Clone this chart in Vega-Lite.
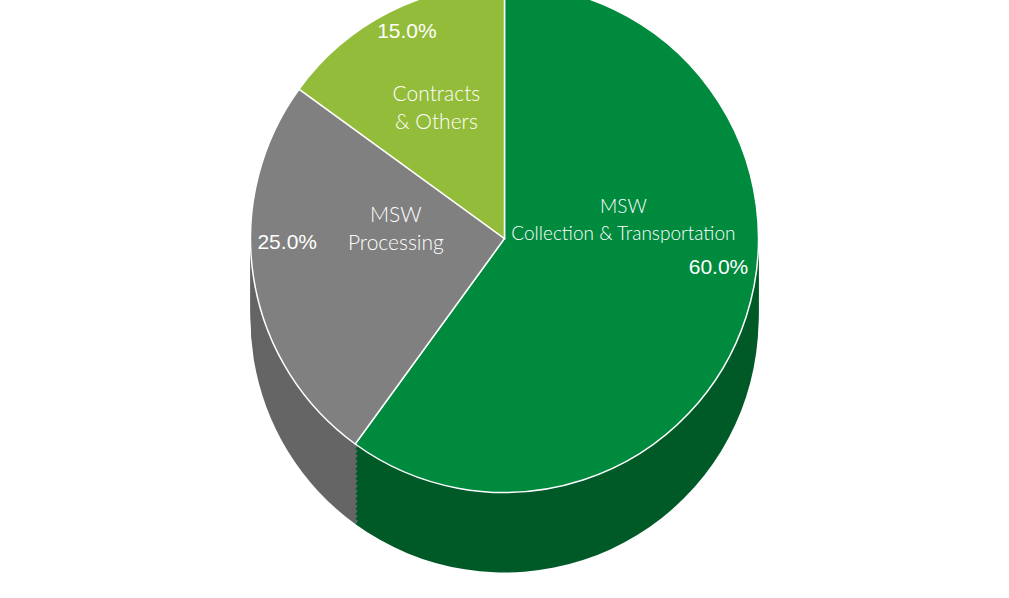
{
  "$schema": "https://vega.github.io/schema/vega-lite/v6.json",
  "width": 1009,
  "height": 598,
  "autosize": {"type": "fit", "contains": "padding"},
  "padding": {"left": 0, "right": 0, "top": 2, "bottom": 88},
  "background": "white",
  "config": {"view": {"stroke": null}},
  "data": {
    "values": [
      {"category": "MSW\nCollection & Transportation", "pct": 60.0, "label": "60.0%", "order": 1},
      {"category": "MSW\nProcessing", "pct": 25.0, "label": "25.0%", "order": 2},
      {"category": "Contracts\n& Others", "pct": 15.0, "label": "15.0%", "order": 3}
    ]
  },
  "encoding": {
    "theta": {"field": "pct", "type": "quantitative", "stack": true},
    "order": {"field": "order", "type": "quantitative"}
  },
  "layer": [
    {"mark": {"type": "arc", "outerRadius": 254, "yOffset": 80}, "encoding": {"color": {"condition": [{"test": "datum.order == 1", "value": "#005A27"}, {"test": "datum.order == 2", "value": "#656565"}], "value": "#6E8F2A"}}},
    {"mark": {"type": "arc", "outerRadius": 254, "yOffset": 75}, "encoding": {"color": {"condition": [{"test": "datum.order == 1", "value": "#005A27"}, {"test": "datum.order == 2", "value": "#656565"}], "value": "#6E8F2A"}}},
    {"mark": {"type": "arc", "outerRadius": 254, "yOffset": 70}, "encoding": {"color": {"condition": [{"test": "datum.order == 1", "value": "#005A27"}, {"test": "datum.order == 2", "value": "#656565"}], "value": "#6E8F2A"}}},
    {"mark": {"type": "arc", "outerRadius": 254, "yOffset": 65}, "encoding": {"color": {"condition": [{"test": "datum.order == 1", "value": "#005A27"}, {"test": "datum.order == 2", "value": "#656565"}], "value": "#6E8F2A"}}},
    {"mark": {"type": "arc", "outerRadius": 254, "yOffset": 60}, "encoding": {"color": {"condition": [{"test": "datum.order == 1", "value": "#005A27"}, {"test": "datum.order == 2", "value": "#656565"}], "value": "#6E8F2A"}}},
    {"mark": {"type": "arc", "outerRadius": 254, "yOffset": 55}, "encoding": {"color": {"condition": [{"test": "datum.order == 1", "value": "#005A27"}, {"test": "datum.order == 2", "value": "#656565"}], "value": "#6E8F2A"}}},
    {"mark": {"type": "arc", "outerRadius": 254, "yOffset": 50}, "encoding": {"color": {"condition": [{"test": "datum.order == 1", "value": "#005A27"}, {"test": "datum.order == 2", "value": "#656565"}], "value": "#6E8F2A"}}},
    {"mark": {"type": "arc", "outerRadius": 254, "yOffset": 45}, "encoding": {"color": {"condition": [{"test": "datum.order == 1", "value": "#005A27"}, {"test": "datum.order == 2", "value": "#656565"}], "value": "#6E8F2A"}}},
    {"mark": {"type": "arc", "outerRadius": 254, "yOffset": 40}, "encoding": {"color": {"condition": [{"test": "datum.order == 1", "value": "#005A27"}, {"test": "datum.order == 2", "value": "#656565"}], "value": "#6E8F2A"}}},
    {"mark": {"type": "arc", "outerRadius": 254, "yOffset": 35}, "encoding": {"color": {"condition": [{"test": "datum.order == 1", "value": "#005A27"}, {"test": "datum.order == 2", "value": "#656565"}], "value": "#6E8F2A"}}},
    {"mark": {"type": "arc", "outerRadius": 254, "yOffset": 30}, "encoding": {"color": {"condition": [{"test": "datum.order == 1", "value": "#005A27"}, {"test": "datum.order == 2", "value": "#656565"}], "value": "#6E8F2A"}}},
    {"mark": {"type": "arc", "outerRadius": 254, "yOffset": 25}, "encoding": {"color": {"condition": [{"test": "datum.order == 1", "value": "#005A27"}, {"test": "datum.order == 2", "value": "#656565"}], "value": "#6E8F2A"}}},
    {"mark": {"type": "arc", "outerRadius": 254, "yOffset": 20}, "encoding": {"color": {"condition": [{"test": "datum.order == 1", "value": "#005A27"}, {"test": "datum.order == 2", "value": "#656565"}], "value": "#6E8F2A"}}},
    {"mark": {"type": "arc", "outerRadius": 254, "yOffset": 15}, "encoding": {"color": {"condition": [{"test": "datum.order == 1", "value": "#005A27"}, {"test": "datum.order == 2", "value": "#656565"}], "value": "#6E8F2A"}}},
    {"mark": {"type": "arc", "outerRadius": 254, "yOffset": 10}, "encoding": {"color": {"condition": [{"test": "datum.order == 1", "value": "#005A27"}, {"test": "datum.order == 2", "value": "#656565"}], "value": "#6E8F2A"}}},
    {"mark": {"type": "arc", "outerRadius": 254, "yOffset": 5}, "encoding": {"color": {"condition": [{"test": "datum.order == 1", "value": "#005A27"}, {"test": "datum.order == 2", "value": "#656565"}], "value": "#6E8F2A"}}},
    {
      "mark": {"type": "arc", "outerRadius": 254, "stroke": "white", "strokeWidth": 1.5},
      "encoding": {"color": {"condition": [{"test": "datum.order == 1", "value": "#008A3E"}, {"test": "datum.order == 2", "value": "#808080"}], "value": "#93BC3A"}}
    },
    {
      "mark": {"type": "text", "radius": 125, "dy": -70, "fontSize": 19, "font": "Lato", "fontWeight": 300, "fill": "white", "lineBreak": "\n", "lineHeight": 27},
      "encoding": {"text": {"condition": {"test": "datum.order == 1", "field": "category"}, "value": ""}}
    },
    {
      "mark": {"type": "text", "radius": 110, "dy": -40, "fontSize": 21, "font": "Lato", "fontWeight": 300, "fill": "white", "lineBreak": "\n", "lineHeight": 28},
      "encoding": {"text": {"condition": {"test": "datum.order == 2", "field": "category"}, "value": ""}}
    },
    {
      "mark": {"type": "text", "radius": 150, "dy": -10, "fontSize": 21, "font": "Lato", "fontWeight": 300, "fill": "white", "lineBreak": "\n", "lineHeight": 28},
      "encoding": {"text": {"condition": {"test": "datum.order == 3", "field": "category"}, "value": ""}}
    },
    {
      "mark": {"type": "text", "radius": 225, "dy": -40, "fontSize": 21, "font": "Liberation Sans", "fill": "white"},
      "encoding": {"text": {"condition": {"test": "datum.order == 1", "field": "label"}, "value": ""}}
    },
    {
      "mark": {"type": "text", "radius": 220, "dy": -30, "fontSize": 21, "font": "Liberation Sans", "fill": "white"},
      "encoding": {"text": {"condition": {"test": "datum.order == 2", "field": "label"}, "value": ""}}
    },
    {
      "mark": {"type": "text", "radius": 215, "dy": -15, "fontSize": 21, "font": "Liberation Sans", "fill": "white"},
      "encoding": {"text": {"condition": {"test": "datum.order == 3", "field": "label"}, "value": ""}}
    }
  ]
}
